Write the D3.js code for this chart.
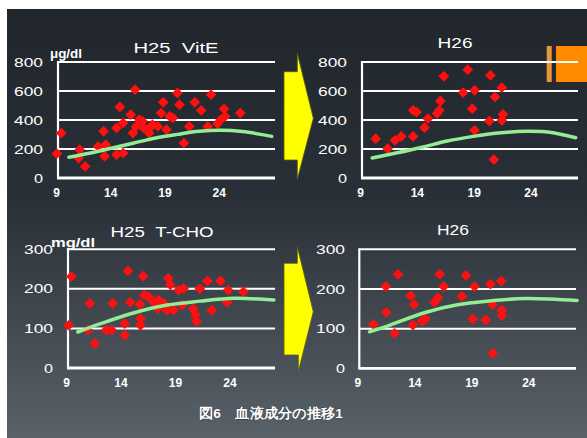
<!DOCTYPE html>
<html>
<head>
<meta charset="utf-8">
<script src="https://cdn.jsdelivr.net/npm/d3@7"></script>
<style>
  html, body { margin: 0; padding: 0; background: #ffffff; }
  svg { display: block; }
  text { font-family: "Liberation Sans", Arial, sans-serif; fill: #ffffff; }
</style>
</head>
<body>
<svg id="chart" width="587" height="438"></svg>
<script>
// ---- data: [age, value] pairs ----
const vitE25 = [[8.9,168],[9.3,310],[11.0,195],[10.9,138],[11.5,80],[12.7,218],[13.2,322],[13.4,230],[13.3,150],
  [14.4,161],[15.0,172],[14.7,490],[14.4,345],[15.0,380],[15.7,437],[16.1,609],[15.9,310],[16.2,356],[16.5,402],
  [16.9,345],[17.4,310],[17.7,368],[18.2,356],[18.5,448],[18.7,522],[19.0,333],[19.3,425],[19.6,414],[20.0,586],
  [20.2,506],[20.6,241],[21.1,356],[21.6,522],[22.2,467],[22.8,356],[23.1,575],[24.0,402],[24.3,476],[24.4,425],
  [25.8,448],[16.8,391],[17.6,356],[23.7,375]];
const vitE26 = [[10.2,271],[11.25,202],[11.9,260],[12.45,287],[13.5,467],[13.8,455],[13.5,287],[14.5,347],
  [14.8,409],[15.6,444],[15.8,467],[15.9,531],[16.2,701],[17.9,589],[18.3,747],[18.9,605],[18.7,478],[18.9,329],
  [20.2,393],[20.3,708],[20.7,559],[20.6,126],[21.3,623],[21.3,398],[21.4,439]];
const tcho25 = [[9.3,231],[9.06,108],[11.0,163],[10.8,96],[11.45,62],[12.5,96],[13.0,96],[13.1,163],[14.2,112],
  [14.2,83],[14.5,245],[14.7,166],[15.6,161],[15.65,108],[15.65,125],[15.9,232],[16.0,184],[16.4,180],[16.9,166],
  [17.2,150],[17.8,163],[18.1,146],[18.2,227],[18.4,210],[18.7,146],[19.15,197],[19.6,201],[19.5,159],[20.5,150],
  [20.7,134],[20.8,118],[21.1,200],[21.8,220],[22.2,146],[23.0,220],[23.7,197],[23.6,166],[25.1,193],[17.3,172]];
const tcho26 = [[10.24,111],[11.36,141],[11.33,206],[12.1,88],[12.4,237],[13.5,183],[13.8,161],[13.7,109],
  [14.5,119],[14.8,124],[15.6,166],[15.9,178],[16.05,237],[16.4,206],[18.0,181],[18.35,234],[18.95,124],
  [19.1,206],[20.1,122],[20.5,212],[20.7,38],[20.7,161],[21.45,220],[21.5,147],[21.5,133]];

// reference (trend) curves
const trendVitE25 = [[10,143],[12,172],[14,207],[16,241],[18,276],[20,301],[22,322],[24,329],[26,320],[28.7,287]];
const trendVitE26 = [[9.9,138],[12,172],[14.4,214],[16.5,255],[18.8,287],[21,310],[23.4,322],[25.5,316],[27.8,278]];
const trendTcho25 = [[9.9,91],[12,112],[15,139],[18.1,159],[21.1,169],[24.2,176],[27.9,172]];
const trendTcho26 = [[9.9,92],[11.7,109],[14.7,140],[17.6,160],[20.6,170],[23.5,176],[28.1,171]];

const xTicks = [9, 14, 19, 24];
const yTicksVitE = [0, 200, 400, 600, 800];
const yTicksTcho = [0, 100, 200, 300];

const panelTitles = ["H25\u00a0\u00a0VitE", "H26", "H25\u00a0\u00a0T-CHO", "H26"];
const unitLabels = ["\u03bcg/dl", "mg/dl"];
const caption = "図6\u3000血液成分の推移1";

// ---- layout ----
const W = 587, H = 438;
const svg = d3.select("#chart");
const defs = svg.append("defs");

const grad = defs.append("linearGradient").attr("id", "bg").attr("x1", 0).attr("y1", 0).attr("x2", 0).attr("y2", 1);
grad.append("stop").attr("offset", 0).attr("stop-color", "#21262d");
grad.append("stop").attr("offset", 0.45).attr("stop-color", "#2a3037");
grad.append("stop").attr("offset", 1).attr("stop-color", "#596169");

svg.append("rect").attr("x", 7).attr("y", 9).attr("width", W - 7).attr("height", H - 9).attr("fill", "url(#bg)");

// orange tab in the top-right corner
svg.append("rect").attr("x", 546.7).attr("y", 46).attr("width", 5).attr("height", 36).attr("fill", "#e99638");
svg.append("rect").attr("x", 556).attr("y", 46).attr("width", 31).attr("height", 36).attr("fill", "#ff8a00");

// yellow transition arrows
function arrow(x0, xb, xt, yt, yb0, yb1, yh0, yh1) {
  const ym = (yh0 + yh1) / 2;
  return [[x0, yb0], [xb, yb0], [xb, yh0], [xt, yt], [xb + (yh1 > 300 ? 1 : 0), yh1], [xb + (yh1 > 300 ? 1 : 0), yb1], [x0, yb1]];
}
const arrows = [
  arrow(284, 297.3, 313.3, 118.3, 71.7, 160, 53.3, 179.3),
  arrow(284, 297.3, 313.3, 311.7, 263.3, 355, 246.7, 371.7)
];
svg.selectAll("polygon.arrow").data(arrows).join("polygon")
  .attr("class", "arrow")
  .attr("points", d => d.map(p => p.join(",")).join(" "))
  .attr("fill", "#ffff00").attr("stroke", "#5a5a20").attr("stroke-width", 0.8);

const panels = [
  { data: vitE25, trend: trendVitE25, xDom: [9, 29], yDom: [0, 800], yTicks: yTicksVitE,
    x0: 58, x1: 275, yTop: 62, yBot: 178, labelRight: 43, title: panelTitles[0], titleX: 176, titleY: 52.5, titleW: 85,
    unit: unitLabels[0], unitX: 50, unitY: 58, unitW: 32 },
  { data: vitE26, trend: trendVitE26, xDom: [9, 28], yDom: [0, 800], yTicks: yTicksVitE,
    x0: 362, x1: 578, yTop: 62, yBot: 178, labelRight: 347, title: panelTitles[1], titleX: 455, titleY: 48, titleW: 35 },
  { data: tcho25, trend: trendTcho25, xDom: [9, 28], yDom: [0, 300], yTicks: yTicksTcho,
    x0: 68, x1: 275, yTop: 249.3, yBot: 368, labelRight: 53, title: panelTitles[2], titleX: 162, titleY: 236.5, titleW: 103,
    unit: unitLabels[1], unitX: 51, unitY: 246.5, unitW: 44 },
  { data: tcho26, trend: trendTcho26, xDom: [9, 28], yDom: [0, 300], yTicks: yTicksTcho,
    x0: 359.3, x1: 576, yTop: 249.3, yBot: 368.3, labelRight: 345, title: panelTitles[3], titleX: 453, titleY: 235, titleW: 32 }
];

const diamond = d3.symbol().type(d3.symbolSquare).size(58);

panels.forEach(p => {
  const x = d3.scaleLinear().domain(p.xDom).range([p.x0, p.x1]);
  const y = d3.scaleLinear().domain(p.yDom).range([p.yBot, p.yTop]);
  const g = svg.append("g");

  // gridlines
  g.selectAll("line.grid").data(p.yTicks.filter(t => t > 0)).join("line")
    .attr("x1", p.x0).attr("x2", p.x1)
    .attr("y1", d => y(d)).attr("y2", d => y(d))
    .attr("stroke", "#ffffff").attr("stroke-width", 2);

  // y axis line and baseline
  g.append("line").attr("x1", p.x0).attr("x2", p.x0).attr("y1", y(p.yDom[1]) - 1).attr("y2", y(0))
    .attr("stroke", "#ffffff").attr("stroke-width", 2.2);
  g.append("line").attr("x1", p.x0 - 1).attr("x2", p.x1).attr("y1", y(0)).attr("y2", y(0))
    .attr("stroke", "#ffffff").attr("stroke-width", 2.8);

  // y tick labels (wide, squat lettering)
  g.selectAll("text.ytick").data(p.yTicks).join("text")
    .attr("x", p.labelRight).attr("y", d => y(d) + 4.6)
    .attr("text-anchor", "end")
    .attr("font-size", 13)
    .attr("textLength", d => String(d).length * 10 - 1)
    .attr("lengthAdjust", "spacingAndGlyphs")
    .text(d => d);

  // x tick labels
  g.selectAll("text.xtick").data(xTicks).join("text")
    .attr("x", d => x(d) - 1.5).attr("y", p.yBot + 19)
    .attr("text-anchor", "middle")
    .attr("font-size", 12).attr("font-weight", "bold")
    .text(d => d);

  // titles and units
  g.append("text").attr("x", p.titleX).attr("y", p.titleY).attr("text-anchor", "middle")
    .attr("font-size", 14.5).attr("textLength", p.titleW).attr("lengthAdjust", "spacingAndGlyphs")
    .text(p.title);
  if (p.unit) {
    g.append("text").attr("x", p.unitX).attr("y", p.unitY)
      .attr("font-size", 12).attr("font-weight", "bold")
      .attr("textLength", p.unitW).attr("lengthAdjust", "spacingAndGlyphs")
      .text(p.unit);
  }

  // scatter markers
  g.selectAll("path.pt").data(p.data).join("path")
    .attr("d", diamond)
    .attr("transform", d => `translate(${x(d[0])},${y(d[1])}) rotate(45)`)
    .attr("fill", "#ff1010");

  // trend curve
  g.append("path").datum(p.trend)
    .attr("d", d3.line().x(d => x(d[0])).y(d => y(d[1])).curve(d3.curveCatmullRom))
    .attr("fill", "none").attr("stroke", "#94ec94").attr("stroke-width", 3.5).attr("stroke-linecap", "round");
});

// caption
svg.append("text").attr("x", 199).attr("y", 418)
  .attr("font-family", "'Noto Sans CJK JP', sans-serif")
  .attr("font-size", 13.5).attr("font-weight", "bold")
  .attr("textLength", 144).attr("lengthAdjust", "spacingAndGlyphs")
  .attr("stroke", "#2a2f36").attr("stroke-width", 0.6).attr("paint-order", "stroke")
  .text(caption);
</script>
</body>
</html>
